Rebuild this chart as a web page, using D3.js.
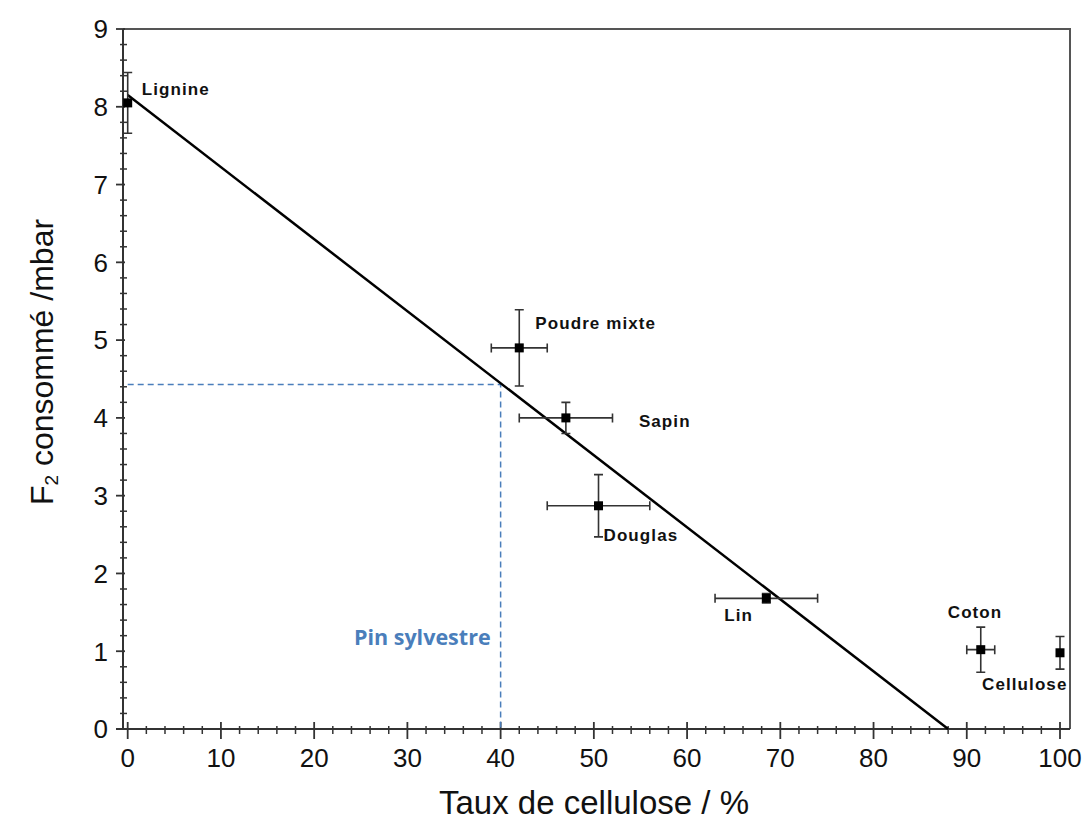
<!DOCTYPE html>
<html>
<head>
<meta charset="utf-8">
<script src="https://cdn.jsdelivr.net/npm/d3@7"></script>
<style>
  body { margin: 0; background: #fff; }
  svg { display: block; }
</style>
</head>
<body>
<script>
// samples
const names = ["Lignine", "Poudre mixte", "Sapin", "Douglas", "Lin", "Coton", "Cellulose"];
const cellulose = [0, 42, 47, 50.5, 68.5, 91.5, 100];
const celluloseErr = [0, 3, 5, 5.5, 5.5, 1.5, 0];
const f2 = [8.05, 4.9, 4.0, 2.87, 1.68, 1.02, 0.98];
const f2Err = [0.39, 0.49, 0.2, 0.4, 0.06, 0.29, 0.21];

// linear fit
const fitX = [0, 88];
const fitY = [8.15, 0];

// read-off for pin sylvestre
const pinX = 40;
const pinY = 4.43;
const pinName = "Pin sylvestre";

const xTicks = d3.range(0, 101, 10);
const yTicks = d3.range(0, 10, 1);

const width = 1083, height = 821;

// label offsets (px) relative to each point
const labelOffset = {
  "Lignine": [14, -8],
  "Poudre mixte": [16, -19],
  "Sapin": [73, 9],
  "Douglas": [5, 35],
  "Lin": [-42, 23],
  "Coton": [-33, -32],
  "Cellulose": [-78, 37]
};

const x = d3.scaleLinear().domain([0, 100]).range([127.7, 1060]);
const y = d3.scaleLinear().domain([0, 9]).range([729, 29]);

const frameLeft = 123, frameRight = 1070;
const axisColor = "#333";

const svg = d3.select("body").append("svg")
  .attr("width", width)
  .attr("height", height)
  .style("font-family", "'Liberation Sans', Arial, sans-serif");

// frame (top + right)
svg.append("path")
  .attr("d", `M${frameLeft},${y(9)}H${frameRight}V${y(0)}`)
  .attr("fill", "none")
  .attr("stroke", "#555")
  .attr("stroke-width", 2);

// x axis
const xAxis = svg.append("g");
xAxis.append("line")
  .attr("x1", 116).attr("x2", frameRight)
  .attr("y1", y(0)).attr("y2", y(0))
  .attr("stroke", axisColor).attr("stroke-width", 2);
xAxis.selectAll(".minor")
  .data(d3.range(0, 101, 2).filter(v => v % 10 !== 0))
  .enter().append("line")
  .attr("x1", d => x(d)).attr("x2", d => x(d))
  .attr("y1", y(0) - 3).attr("y2", y(0) + 5)
  .attr("stroke", axisColor).attr("stroke-width", 1.5);
xAxis.selectAll(".major")
  .data(xTicks)
  .enter().append("line")
  .attr("x1", d => x(d)).attr("x2", d => x(d))
  .attr("y1", y(0) - 7).attr("y2", y(0) + 10)
  .attr("stroke", axisColor).attr("stroke-width", 1.8);
xAxis.selectAll(".lab")
  .data(xTicks)
  .enter().append("text")
  .attr("x", d => x(d))
  .attr("y", 767)
  .attr("text-anchor", "middle")
  .attr("font-size", 26)
  .attr("fill", "#111")
  .text(d => d);

// y axis
const yAxis = svg.append("g");
yAxis.append("line")
  .attr("x1", frameLeft).attr("x2", frameLeft)
  .attr("y1", y(9)).attr("y2", y(0))
  .attr("stroke", axisColor).attr("stroke-width", 2);
yAxis.selectAll(".minor")
  .data(d3.range(0, 9.01, 0.2).filter(v => Math.abs(v - Math.round(v)) > 0.01))
  .enter().append("line")
  .attr("x1", frameLeft - 3).attr("x2", frameLeft + 4)
  .attr("y1", d => y(d)).attr("y2", d => y(d))
  .attr("stroke", axisColor).attr("stroke-width", 1.5);
yAxis.selectAll(".major")
  .data(yTicks)
  .enter().append("line")
  .attr("x1", 116).attr("x2", frameLeft + 2)
  .attr("y1", d => y(d)).attr("y2", d => y(d))
  .attr("stroke", axisColor).attr("stroke-width", 1.8);
yAxis.selectAll(".lab")
  .data(yTicks)
  .enter().append("text")
  .attr("x", 108)
  .attr("y", d => y(d))
  .attr("dy", "0.36em")
  .attr("text-anchor", "end")
  .attr("font-size", 26)
  .attr("fill", "#111")
  .text(d => d);

// axis titles
svg.append("text")
  .attr("x", 594)
  .attr("y", 814)
  .attr("text-anchor", "middle")
  .attr("font-size", 33)
  .attr("fill", "#111")
  .text("Taux de cellulose / %");

const yTitle = svg.append("text")
  .attr("transform", "translate(53,362) rotate(-90)")
  .attr("text-anchor", "middle")
  .attr("font-size", 32)
  .attr("fill", "#111");
yTitle.append("tspan").text("F");
yTitle.append("tspan").attr("font-size", 19).attr("dy", 5).text("2");
yTitle.append("tspan").attr("dy", -5).text(" consommé /mbar");

// pin sylvestre read-off
svg.append("path")
  .attr("d", `M${x(0)},${y(pinY)}H${x(pinX)}V${y(0)}`)
  .attr("fill", "none")
  .attr("stroke", "#4a7ebb")
  .attr("stroke-width", 1.5)
  .attr("stroke-dasharray", "6,4");
svg.append("text")
  .attr("x", x(pinX) - 10)
  .attr("y", y(0) - 84)
  .attr("text-anchor", "end")
  .attr("font-family", "'Open Sans', Lato, sans-serif")
  .attr("font-weight", "bold")
  .attr("font-size", 21.5)
  .attr("fill", "#4a7ebb")
  .text(pinName);

// fit line
svg.append("line")
  .attr("x1", x(fitX[0])).attr("y1", y(fitY[0]))
  .attr("x2", x(fitX[1])).attr("y2", y(fitY[1]))
  .attr("stroke", "#000")
  .attr("stroke-width", 2.5);

// points with error bars
const data = names.map((n, i) => ({
  name: n, x: cellulose[i], xe: celluloseErr[i], y: f2[i], ye: f2Err[i]
}));

const cap = 4.5;
const pts = svg.append("g").selectAll("g")
  .data(data)
  .enter().append("g");

pts.filter(d => d.xe > 0).append("path")
  .attr("d", d => {
    const x0 = x(d.x - d.xe), x1 = x(d.x + d.xe), yy = y(d.y);
    return `M${x0},${yy}H${x1}M${x0},${yy - cap}V${yy + cap}M${x1},${yy - cap}V${yy + cap}`;
  })
  .attr("fill", "none")
  .attr("stroke", "#333")
  .attr("stroke-width", 1.6);

pts.filter(d => d.ye > 0).append("path")
  .attr("d", d => {
    const y0 = y(d.y - d.ye), y1 = y(d.y + d.ye), xx = x(d.x);
    return `M${xx},${y0}V${y1}M${xx - cap},${y0}H${xx + cap}M${xx - cap},${y1}H${xx + cap}`;
  })
  .attr("fill", "none")
  .attr("stroke", "#333")
  .attr("stroke-width", 1.6);

pts.append("rect")
  .attr("x", d => x(d.x) - 4.5)
  .attr("y", d => y(d.y) - 4.5)
  .attr("width", 9)
  .attr("height", 9)
  .attr("fill", "#000");

pts.append("text")
  .attr("x", d => x(d.x) + labelOffset[d.name][0])
  .attr("y", d => y(d.y) + labelOffset[d.name][1])
  .attr("font-size", 17)
  .attr("font-weight", "bold")
  .attr("letter-spacing", 1.1)
  .attr("fill", "#111")
  .text(d => d.name);
</script>
</body>
</html>
